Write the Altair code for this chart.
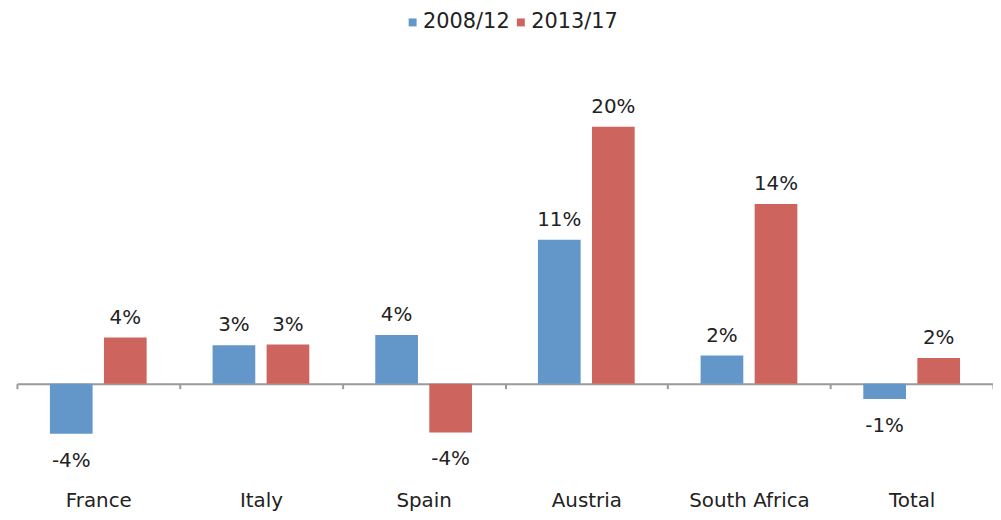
import altair as alt
import pandas as pd

categories = ["France", "Italy", "Spain", "Austria", "South Africa", "Total"]
series_names = ["2008/12", "2013/17"]
values_2008_12 = [-3.9, 3.0, 3.8, 11.2, 2.2, -1.2]
values_2013_17 = [3.6, 3.05, -3.8, 20.0, 14.0, 2.0]
colors = ["#6397C9", "#CD655E"]

rows = []
for c, a, b in zip(categories, values_2008_12, values_2013_17):
    rows.append({"cat": c, "series": series_names[0], "value": a})
    rows.append({"cat": c, "series": series_names[1], "value": b})
df = pd.DataFrame(rows)

FONT = "DejaVu Sans"
TXT = "#222222"

x_enc = alt.X(
    "cat:N", sort=categories,
    scale=alt.Scale(paddingInner=0, paddingOuter=0),
    axis=alt.Axis(
        title=None, offset=-116.4, domainColor="#9a9a9a", domainWidth=2,
        tickColor="#9a9a9a", tickWidth=2, tickSize=5, tickBand="extent",
        labelPadding=103, labelFontSize=20, labelColor=TXT, labelFont=FONT,
        labelAngle=0, grid=False,
    ),
)
xo_enc = alt.XOffset("series:N", sort=series_names,
                     scale=alt.Scale(paddingInner=0.21, paddingOuter=0.61))
y_enc = alt.Y("value:Q", scale=alt.Scale(domain=[-9, 22], nice=False, zero=True), axis=None)

base = alt.Chart(df).encode(x=x_enc, xOffset=xo_enc, y=y_enc)

bars = base.mark_bar().encode(
    color=alt.Color(
        "series:N", sort=series_names,
        scale=alt.Scale(domain=series_names, range=colors),
        legend=alt.Legend(
            orient="none", legendX=388, legendY=-90, direction="horizontal",
            title=None, symbolType="square", symbolSize=64, labelFontSize=21,
            labelFont=FONT, labelColor=TXT, labelOffset=0, columnPadding=0,
            padding=0, symbolStrokeWidth=0,
        ),
    )
)

labels = base.transform_calculate(
    label="round(datum.value) + '%'"
)
pos_labels = labels.transform_filter("datum.value >= 0").mark_text(
    baseline="bottom", dy=-10, fontSize=20, font=FONT, color=TXT
).encode(text="label:N")
neg_labels = labels.transform_filter("datum.value < 0").mark_text(
    baseline="top", dy=17, fontSize=20, font=FONT, color=TXT
).encode(text="label:N")

chart = alt.layer(bars, pos_labels, neg_labels).properties(
    width=983, height=401,
    autosize=alt.AutoSizeParams(type="none"),
    padding={"left": 9, "top": 92, "right": 0, "bottom": 11},
).configure_view(stroke=None)

chart.save("out.html", embed_options={"renderer": "svg", "actions": False})
